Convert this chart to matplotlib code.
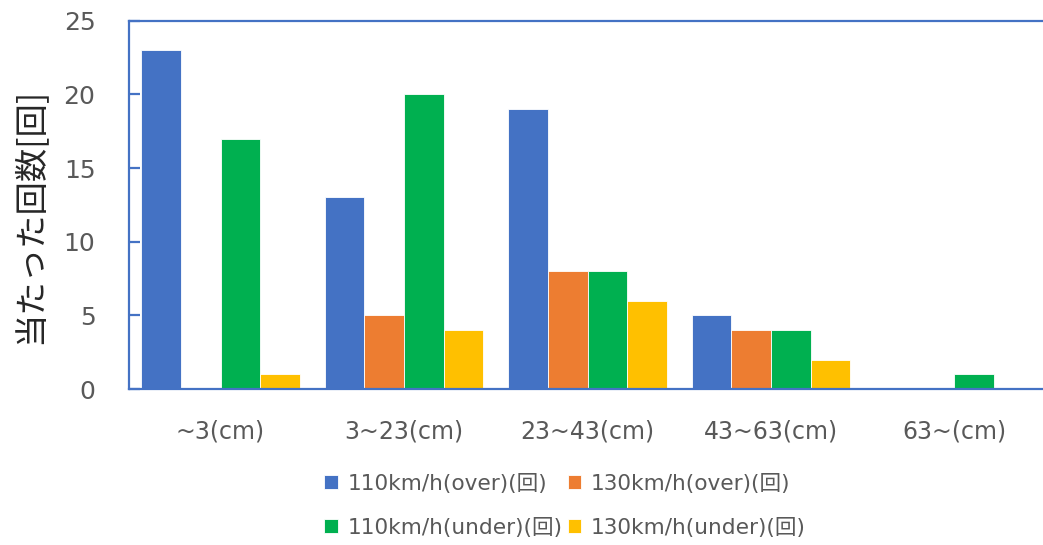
import numpy as np
import matplotlib
matplotlib.use("Agg")
from matplotlib import pyplot as plt

# hits per bump-height range, by speed and lane
categories = ["~3(cm)", "3~23(cm)", "23~43(cm)", "43~63(cm)", "63~(cm)"]
series_names = ["110km/h(over)(回)", "130km/h(over)(回)",
                "110km/h(under)(回)", "130km/h(under)(回)"]
over_110 = [23, 13, 19, 5, 0]
over_130 = [0, 5, 8, 4, 0]
under_110 = [17, 20, 8, 4, 1]
under_130 = [1, 4, 6, 2, 0]
yticks = [0, 5, 10, 15, 20, 25]

colors = ["#4472C4", "#ED7D31", "#00B050", "#FFC000"]
edge_blue = "#4472C4"
text_grey = "#595959"

plt.rcParams['font.family'] = ['DejaVu Sans', 'Noto Sans CJK JP']

fig = plt.figure(figsize=(10.43, 5.45), dpi=100)
ax = fig.add_axes([128.75 / 1043, 1 - 389.1 / 545, 917.5 / 1043, 368.5 / 545])

x = np.arange(len(categories))
w = 0.216
all_series = [over_110, over_130, under_110, under_130]
bars = []
for i, (vals, c, name) in enumerate(zip(all_series, colors, series_names)):
    b = ax.bar(x + (i - 1.5) * w, vals, w, color=c, label=name,
               edgecolor="white", linewidth=0.6, zorder=2)
    bars.append(b)

ax.set_xlim(-0.5, len(categories) - 0.5)
ax.set_ylim(0, 25)
ax.set_yticks(yticks)
ax.set_xticks(x)
ax.set_xticklabels(categories)

for s in ax.spines.values():
    s.set_color(edge_blue)
    s.set_linewidth(1.6)
    s.set_zorder(3)

ax.tick_params(axis='y', direction='in', length=8, width=1.6, color=edge_blue,
               labelsize=18, labelcolor=text_grey, pad=24)
ax.tick_params(axis='x', length=0, labelsize=17, labelcolor=text_grey, pad=22)

fig.text(30 / 1043, 1 - 216 / 545, "当たった回数[回]", rotation=90,
         ha='center', va='center', fontsize=24, color="#262626",
         family=['Noto Sans CJK JP', 'DejaVu Sans'])

# legend fills column by column, so reorder to get the over pair on the first row
order = [0, 2, 1, 3]
fig.legend([bars[k] for k in order], [series_names[k] for k in order],
           loc='center', bbox_to_anchor=(565 / 1043, 1 - 506 / 545), ncol=2,
           frameon=False, fontsize=15.6, labelcolor=text_grey,
           handlelength=0.62, handleheight=0.62, handletextpad=0.45,
           columnspacing=0.25, labelspacing=1.1)

fig.savefig("out.png", dpi=100)
